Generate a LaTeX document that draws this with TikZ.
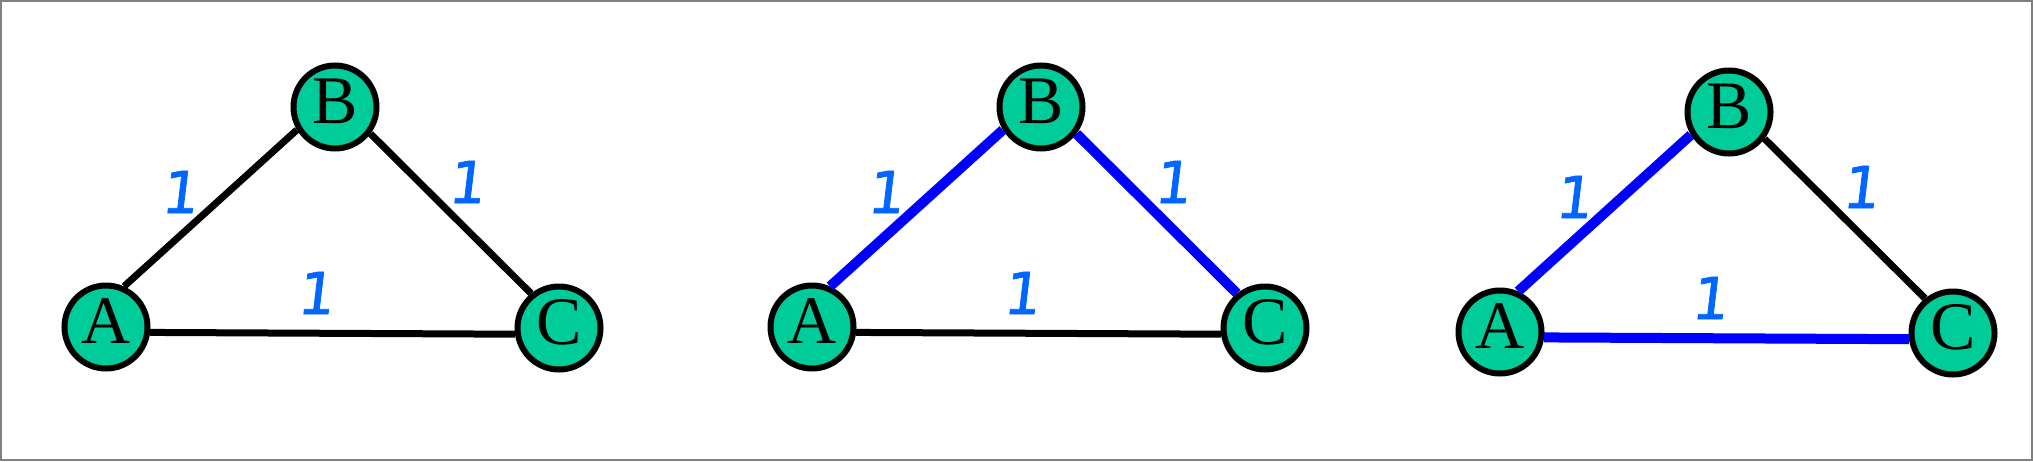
\documentclass[tikz,border=0pt]{standalone}
\usepackage{fontspec}
\setmainfont{Liberation Serif}
\newfontfamily\wfont[FakeSlant=0.12,FakeBold=1.2]{DejaVu Sans}
\usetikzlibrary{positioning}
\definecolor{nodegreen}{RGB}{0,204,153}
\definecolor{wblue}{RGB}{0,102,255}
\definecolor{pathblue}{RGB}{0,0,255}
\tikzset{
  vertex/.style={
    circle,
    draw,
    line width=6pt,
    fill=nodegreen,
    minimum size=83pt,
    inner sep=0pt,
    text height=46pt,
    text depth=14pt,
    font=\fontsize{68}{68}\selectfont
  },
  weight/.style={
    text=wblue,
    inner sep=0pt,
    font=\wfont\fontsize{58}{58}\selectfont
  },
  plain/.style={line width=7pt},
  chosen/.style={line width=10pt, draw=pathblue}
}

\begin{document}
\begin{tikzpicture}[x=1pt, y=-1pt]

\draw[gray, line width=2pt] (1,1) rectangle (2032,460);
\useasboundingbox (0,0) rectangle (2033,461);

% Graph
\node[vertex] (A1) at (106,327) {A};
\node[vertex] (B1) at (335,107) {B};
\node[vertex] (C1) at (559,328) {C};
\node[weight] (wab1) at (179,192) {1};
\node[weight] (wbc1) at (466,182) {1};
\node[weight] (wac1) at (315,293) {1};
\draw[plain] (A1.66) -- (B1.211);
\draw[plain] (B1.-37) -- (C1.129);
\draw[plain] (A1.-7) -- (C1.188);

% Path A-B-C
\begin{scope}[shift={(706,0)}]
\node[vertex] (A2) at (106,327) {A};
\node[vertex] (B2) at (335,107) {B};
\node[vertex] (C2) at (559,328) {C};
\node[weight] (wab2) at (179,192) {1};
\node[weight] (wbc2) at (466,182) {1};
\node[weight] (wac2) at (315,293) {1};
\draw[chosen] (A2.66) -- (B2.211);
\draw[chosen] (B2.-37) -- (C2.129);
\draw[plain] (A2.-7) -- (C2.188);
\end{scope}

% Path B-A-C
\begin{scope}[shift={(1394,5)}]
\node[vertex] (A3) at (106,327) {A};
\node[vertex] (B3) at (335,107) {B};
\node[vertex] (C3) at (559,328) {C};
\node[weight] (wab3) at (179,192) {1};
\node[weight] (wbc3) at (466,182) {1};
\node[weight] (wac3) at (315,293) {1};
\draw[chosen] (A3.66) -- (B3.211);
\draw[plain] (B3.-37) -- (C3.129);
\draw[chosen] (A3.-7) -- (C3.188);
\end{scope}

\end{tikzpicture}
\end{document}
